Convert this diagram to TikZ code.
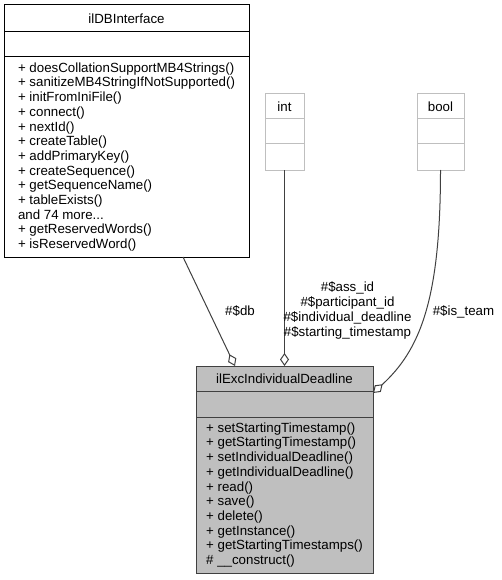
\documentclass[tikz,border=0pt]{standalone}
\usepackage{fontspec}
\setmainfont{Liberation Sans}
\usetikzlibrary{positioning,arrows.meta}
\definecolor{edgegray}{HTML}{404040}
\definecolor{boxgray}{HTML}{BFBFBF}

\begin{document}
\begin{tikzpicture}[x=1pt, y=-1pt,
  every node/.style={font=\fontsize{13.3}{14.7}\selectfont, inner sep=0pt, outer sep=0pt},
  uml/.style={rectangle, draw=black, fill=white, line width=1pt, align=left, minimum width=#1},
  main/.style={uml=#1, draw=edgegray, fill=boxgray},
  prim/.style={uml=#1, draw=boxgray},
  link/.style={draw=edgegray, line width=1pt, -{Diamond[open, length=13pt, width=9pt]}},
  lbl/.style={align=center}]
%\draw[help lines, color=gray!30, dashed] (0,0) grid[step=50] (500,580);
\useasboundingbox (0,0) rectangle (501,580);

\node[uml=245, minimum height=27, anchor=north west] (dbTitle) at (4,5) {ilDBInterface};
\node[uml=245, minimum height=25, below=0pt of dbTitle] (dbAttr) {};
\node[uml=245, minimum height=200, below=0pt of dbAttr] (dbOps) {+ doesCollationSupportMB4Strings()\\+ sanitizeMB4StringIfNotSupported()\\+ initFromIniFile()\\+ connect()\\+ nextId()\\+ createTable()\\+ addPrimaryKey()\\+ createSequence()\\+ getSequenceName()\\+ tableExists()\\and 74 more...\\+ getReservedWords()\\+ isReservedWord()};

\node[prim=39, minimum height=25, anchor=north west] (intTitle) at (265,94) {int};
\node[prim=39, minimum height=25, below=0pt of intTitle] (intAttr) {};
\node[prim=39, minimum height=26, below=0pt of intAttr] (intOps) {};

\node[prim=47, minimum height=25, anchor=north west] (boolTitle) at (417,94) {bool};
\node[prim=47, minimum height=25, below=0pt of boolTitle] (boolAttr) {};
\node[prim=47, minimum height=26, below=0pt of boolAttr] (boolOps) {};

\node[main=177, minimum height=25, anchor=north west] (excTitle) at (196,366) {ilExcIndividualDeadline};
\node[main=177, minimum height=26, below=0pt of excTitle] (excAttr) {};
\node[main=177, minimum height=156, below=0pt of excAttr] (excOps) {+ setStartingTimestamp()\\+ getStartingTimestamp()\\+ setIndividualDeadline()\\+ getIndividualDeadline()\\+ read()\\+ save()\\+ delete()\\+ getInstance()\\+ getStartingTimestamps()\\\# \_\_construct()};

\draw[link] ([xshift=56.5pt]dbOps.south) -- ([xshift=-49.5pt]excTitle.north);
\draw[link] (intOps.south) -- (excTitle.north);
\draw[link] (boolOps.south) .. controls +(0,130) and +(47,-43) .. ([yshift=-2pt]excAttr.north east);

\node[lbl] (dbLbl) at (240,311) {\#\$db};
\node[lbl] (intLbl) at (347.5,310.5) {\#\$ass\_id\\\#\$participant\_id\\\#\$individual\_deadline\\\#\$starting\_timestamp};
\node[lbl] (boolLbl) at (463.5,312) {\#\$is\_team};
\end{tikzpicture}
\end{document}
